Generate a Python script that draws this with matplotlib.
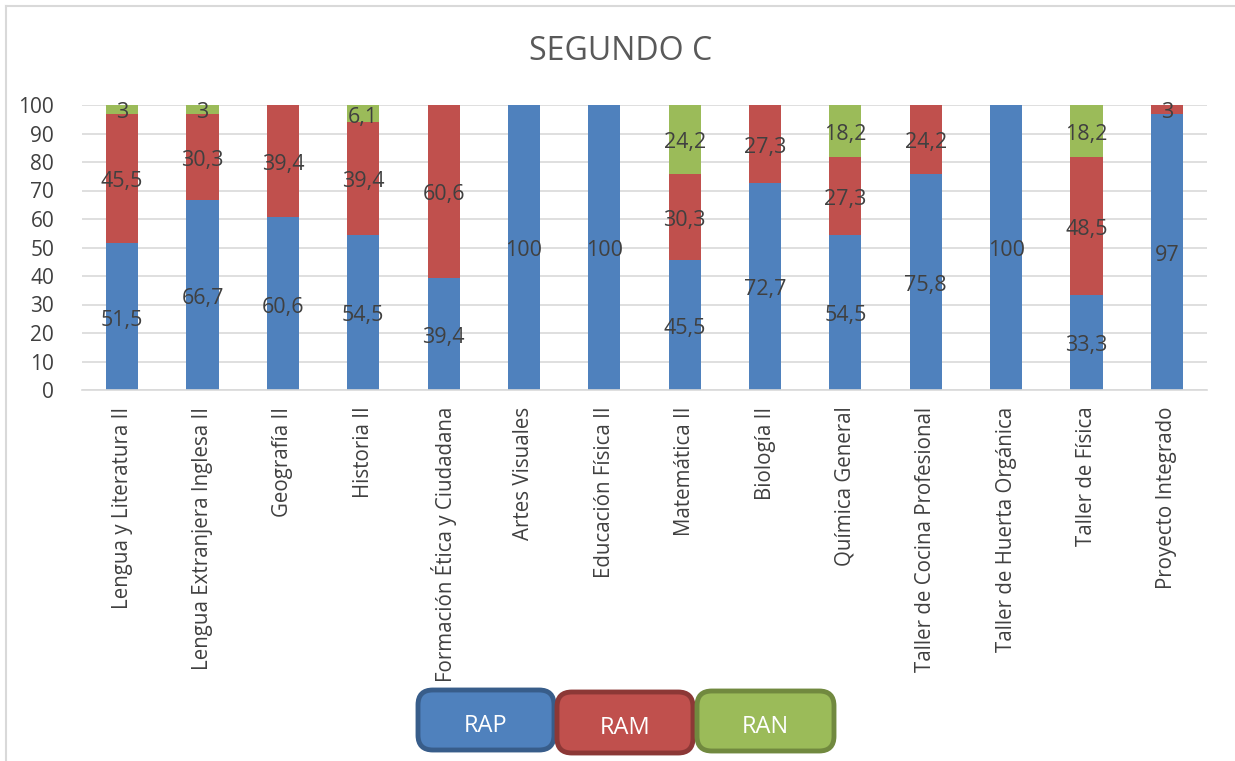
import numpy as np
import matplotlib
matplotlib.use('Agg')
import matplotlib.pyplot as plt
from matplotlib.patches import FancyBboxPatch
from matplotlib.lines import Line2D

plt.rcParams['font.family'] = ['Open Sans', 'DejaVu Sans']

categories = ['Lengua y Literatura II', 'Lengua Extranjera Inglesa II', 'Geografía II',
              'Historia II', 'Formación Ética y Ciudadana', 'Artes Visuales',
              'Educación Física II', 'Matemática II', 'Biología II', 'Química General',
              'Taller de Cocina Profesional', 'Taller de Huerta Orgánica',
              'Taller de Física', 'Proyecto Integrado']
rap = [51.5, 66.7, 60.6, 54.5, 39.4, 100, 100, 45.5, 72.7, 54.5, 75.8, 100, 33.3, 97]
ram = [45.5, 30.3, 39.4, 39.4, 60.6, 0, 0, 30.3, 27.3, 27.3, 24.2, 0, 48.5, 3]
ran = [3, 3, 0, 6.1, 0, 0, 0, 24.2, 0, 18.2, 0, 0, 18.2, 0]
series_names = ['RAP', 'RAM', 'RAN']
colors = ['#4F81BD', '#C0504D', '#9BBB59']
edge_colors = ['#385D8A', '#8C3836', '#71893F']
yticks = [0, 10, 20, 30, 40, 50, 60, 70, 80, 90, 100]

W, H = 1235, 761
fig = plt.figure(figsize=(W / 100, H / 100), dpi=100)
ax = fig.add_axes([82 / W, 1 - 390 / H, (1207 - 82) / W, (390 - 105) / H])

x = np.arange(len(categories))
bottom = np.zeros(len(categories))
txt = '#404040'
for vals, c in zip([rap, ram, ran], colors):
    vals = np.array(vals, dtype=float)
    ax.bar(x, vals, 0.4, bottom=bottom, color=c, zorder=2)
    for xi, b, v in zip(x, bottom, vals):
        if v > 0:
            lbl = ('%g' % v).replace('.', ',')
            ax.text(xi, b + v / 2 - 1.2, lbl, ha='center', va='center',
                    fontsize=15.5, color=txt, zorder=3)
    bottom += vals

ax.set_xlim(-0.5, len(categories) - 0.5)
ax.set_ylim(0, 100)
ax.set_yticks(yticks)
ax.set_xticks(x)
ax.set_xticklabels(categories, rotation=90, fontsize=14.8, color=txt)
ax.tick_params(axis='y', labelsize=15, labelcolor=txt, length=0, pad=20)
ax.tick_params(axis='x', length=0, pad=12)
ax.yaxis.grid(True, color='#D9D9D9', linewidth=1.2, zorder=0)
ax.set_axisbelow(True)
for s in ['left', 'right', 'top']:
    ax.spines[s].set_visible(False)
ax.spines['bottom'].set_color('#D9D9D9')
ax.spines['bottom'].set_linewidth(1.2)

fig.text(621 / W, 1 - 52 / H, 'SEGUNDO C', ha='center', va='center',
         fontsize=23, color='#595959')

# chart border (only left and top visible)
fig.add_artist(Line2D([6 / W, 6 / W], [0, 1 - 6 / H], color='#D9D9D9', lw=1.5))
fig.add_artist(Line2D([6 / W, 1], [1 - 6 / H, 1 - 6 / H], color='#D9D9D9', lw=1.5))

# legend boxes
boxes = [(418, 690, 136, 60), (557, 692, 136, 61), (697, 691, 137, 60)]
for (bx, by, bw, bh), name, fc, ec in zip(boxes, series_names, colors, edge_colors):
    p = FancyBboxPatch((bx / W, 1 - (by + bh) / H), bw / W, bh / H,
                       boxstyle='round,pad=0,rounding_size=0.012',
                       transform=fig.transFigure, facecolor=fc, edgecolor=ec,
                       linewidth=3.5, mutation_aspect=W / H)
    fig.add_artist(p)
    fig.text((bx + bw / 2) / W, 1 - (by + bh / 2 + 6) / H, name, ha='center',
             va='center', fontsize=17, color='white')

fig.savefig('out.png', dpi=100)
